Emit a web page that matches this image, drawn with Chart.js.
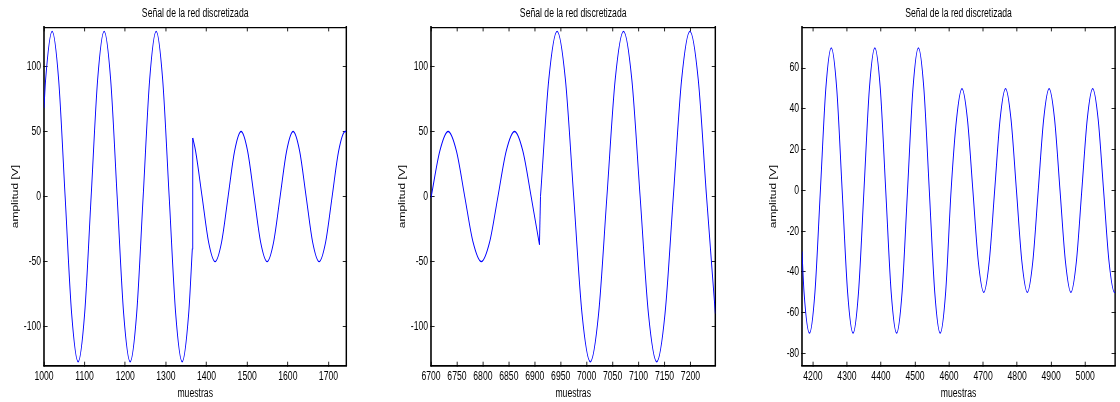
<!DOCTYPE html>
<html>
<head>
<meta charset="utf-8">
<script src="https://cdn.jsdelivr.net/npm/chart.js@4.4.1/dist/chart.umd.min.js"></script>
<style>
  html, body { margin: 0; padding: 0; background: #fff; overflow: hidden; }
  #fig { position: relative; width: 1120px; height: 402px; overflow: hidden; }
  #fig canvas { position: absolute; top: 0; }
</style>
</head>
<body>
<div id="fig"></div>
<script>
// Señal de la red discretizada - three windows of the sampled grid voltage

// Window 1: samples 1000-1744, 127 V peak then a step down to 50 V
const muestras1 = [1000, 1004, 1020, 1036, 1052, 1068, 1084, 1100, 1116, 1132, 1148, 1164, 1180, 1196,
    1212, 1228, 1244, 1260, 1276, 1292, 1308, 1324, 1340, 1356, 1365, 1366, 1373, 1389, 1405, 1421,
    1437, 1453, 1469, 1485, 1501, 1517, 1533, 1549, 1565, 1581, 1597, 1613, 1629, 1645, 1661, 1677,
    1693, 1709, 1725, 1741, 1744];
const amplitud1 = [68, 90, 127, 90, 0, -90, -127, -90, 0, 90, 127, 90, 0, -90,
    -127, -90, 0, 90, 127, 90, 0, -90, -127, -90, -40, 45, 35, 0, -35, -50,
    -35, 0, 35, 50, 35, 0, -35, -50, -35, 0, 35, 50, 35, 0, -35, -50,
    -35, 0, 35, 50, 50];
const salto1 = 1366;

// Window 2: samples 6700-7248, 50 V then a step up to 127 V
const muestras2 = [6700, 6717, 6733, 6749, 6765, 6781, 6797, 6813, 6829, 6845, 6861, 6877, 6893, 6909,
    6911, 6927, 6943, 6959, 6975, 6991, 7007, 7023, 7039, 7055, 7071, 7087, 7103, 7119, 7135, 7151,
    7167, 7183, 7199, 7215, 7231, 7248];
const amplitud2 = [-1, 35, 50, 35, 0, -35, -50, -35, 0, 35, 50, 35, 0, -37,
    0, 90, 127, 90, 0, -90, -127, -90, 0, 90, 127, 90, 0, -90, -127, -90,
    0, 90, 127, 90, 0, -90];
const salto2 = 6911;

// Window 3: samples 4168-5088, 70 V going down to 50 V
const muestras3 = [4168, 4174,
    4190, 4206, 4222, 4238, 4254, 4270, 4286, 4302,
    4318, 4334, 4350, 4366, 4382, 4398, 4414, 4430,
    4446, 4462, 4478, 4494, 4510, 4526, 4542, 4558,
    4574, 4590, 4606, 4622, 4638, 4654, 4670, 4686,
    4702, 4718, 4734, 4750, 4766, 4782, 4798, 4814,
    4830, 4846, 4862, 4878, 4894, 4910, 4926, 4942,
    4958, 4974, 4990, 5006, 5022, 5038, 5054, 5070,
    5086, 5088];
const amplitud3 = [-30, -50,
    -70, -50, 0, 50, 70, 50, 0, -50,
    -70, -50, 0, 50, 70, 50, 0, -50,
    -70, -50, 0, 50, 70, 50, 0, -50,
    -70, -50, 0, 35, 50, 35, 0, -35,
    -50, -35, 0, 35, 50, 35, 0, -35,
    -50, -35, 0, 35, 50, 35, 0, -35,
    -50, -35, 0, 35, 50, 35, 0, -35,
    -50, -50];

// Tick labels
const xTicks1 = [1000, 1100, 1200, 1300, 1400, 1500, 1600, 1700];
const xTicks2 = [6700, 6750, 6800, 6850, 6900, 6950, 7000, 7050, 7100, 7150, 7200];
const xTicks3 = [4200, 4300, 4400, 4500, 4600, 4700, 4800, 4900, 5000];
const yTicks12 = [-100, -50, 0, 50, 100];
const yTicks3 = [-80, -60, -40, -20, 0, 20, 40, 60];

const titulo = "Señal de la red discretizada";
const xLabel = "muestras";
const yLabel = "amplitud [V]";

// The original figure is squeezed horizontally: lay out wide, then draw
// everything through a horizontal scale on the context
const S = 0.72;
const H = 402, BOTTOM = 365.7, AXIS_W = 44, PAD_R = 5;
const FONT = "'Liberation Sans', Arial, Helvetica, sans-serif";

const squeeze = {
    id: "squeeze",
    beforeDraw: (chart) => { chart.ctx.setTransform(S, 0, 0, 1, 0, 0); }
};

const panels = [
    { xs: muestras1, ys: amplitud1, salto: salto1, xr: [1000, 1744], yr: [-130, 130], xt: xTicks1, yt: yTicks12, left: 44, right: 346 },
    { xs: muestras2, ys: amplitud2, salto: salto2, xr: [6700, 7248], yr: [-130, 130], xt: xTicks2, yt: yTicks12, left: 430.7, right: 715 },
    { xs: muestras3, ys: amplitud3, salto: null, xr: [4168, 5088], yr: [-86, 80], xt: xTicks3, yt: yTicks3, left: 801.7, right: 1115 }
];

const fig = document.getElementById("fig");

const setTicks = (values) => (scale) => { scale.ticks = values.map(v => ({ value: v })); };
const line = (data, smooth) => ({
    data,
    borderColor: "#0000ff",
    borderWidth: 1.3,
    pointRadius: 0,
    cubicInterpolationMode: smooth ? "monotone" : "default",
    tension: 0,
    fill: false
});

for (const p of panels) {
    const canvas = document.createElement("canvas");
    const width = Math.round((p.right + PAD_R - p.left + AXIS_W) / S);
    canvas.width = width;
    canvas.height = H;
    canvas.style.left = (p.left - AXIS_W) + "px";
    canvas.style.width = width + "px";
    canvas.style.height = H + "px";
    fig.appendChild(canvas);

    // Split the series at the step so the smoothing does not bend around it
    const pts = p.xs.map((x, i) => ({ x, y: p.ys[i] }));
    let datasets;
    if (p.salto !== null) {
        const antes = pts.filter(d => d.x < p.salto), despues = pts.filter(d => d.x >= p.salto);
        datasets = [line(antes, true), line([antes[antes.length - 1], despues[0]], false), line(despues, true)];
    } else {
        datasets = [line(pts, true)];
    }

    const font = { family: FONT, size: 12 };
    const grid = (tl) => ({ drawOnChartArea: false, tickLength: tl, color: "#000" });

    new Chart(canvas, {
        type: "line",
        data: { datasets },
        plugins: [squeeze],
        options: {
            responsive: false,
            animation: false,
            devicePixelRatio: 1,
            events: [],
            layout: { padding: { left: 0, right: PAD_R / S, top: 0, bottom: 0 } },
            plugins: {
                legend: { display: false },
                tooltip: { enabled: false },
                title: {
                    display: true,
                    text: titulo,
                    color: "#000",
                    fullSize: false,
                    font: { family: FONT, size: 12, weight: "normal" },
                    padding: { top: 6.5, bottom: 6.5 }
                }
            },
            scales: {
                x: {
                    type: "linear",
                    position: "bottom",
                    min: p.xr[0], max: p.xr[1],
                    afterBuildTicks: setTicks(p.xt),
                    afterFit: (s) => { s.height = H - BOTTOM; },
                    ticks: { color: "#000", font, padding: 8, autoSkip: false, maxRotation: 0, callback: v => String(v) },
                    grid: grid(-4),
                    border: { color: "#000", width: 1.8 },
                    title: { display: true, text: xLabel, color: "#000", font, padding: { top: 0, bottom: 1 } }
                },
                x2: {
                    type: "linear",
                    position: "top",
                    min: p.xr[0], max: p.xr[1],
                    afterBuildTicks: setTicks(p.xt),
                    afterFit: (s) => { s.height = 0; },
                    ticks: { display: false },
                    grid: grid(-4),
                    border: { color: "#000", width: 1.2 }
                },
                y: {
                    type: "linear",
                    position: "left",
                    min: p.yr[0], max: p.yr[1],
                    afterBuildTicks: setTicks(p.yt),
                    afterFit: (s) => { s.width = AXIS_W / S; },
                    ticks: { color: "#000", font, padding: 9, autoSkip: false, callback: v => String(v) },
                    grid: grid(-5),
                    border: { color: "#000", width: 2.2 },
                    title: { display: true, text: yLabel, color: "#000", font, padding: { top: 15, bottom: 0 } }
                },
                y2: {
                    type: "linear",
                    position: "right",
                    min: p.yr[0], max: p.yr[1],
                    afterBuildTicks: setTicks(p.yt),
                    afterFit: (s) => { s.width = 0; },
                    ticks: { display: false },
                    grid: grid(-5),
                    border: { color: "#000", width: 2 }
                }
            }
        }
    });
}
</script>
</body>
</html>
